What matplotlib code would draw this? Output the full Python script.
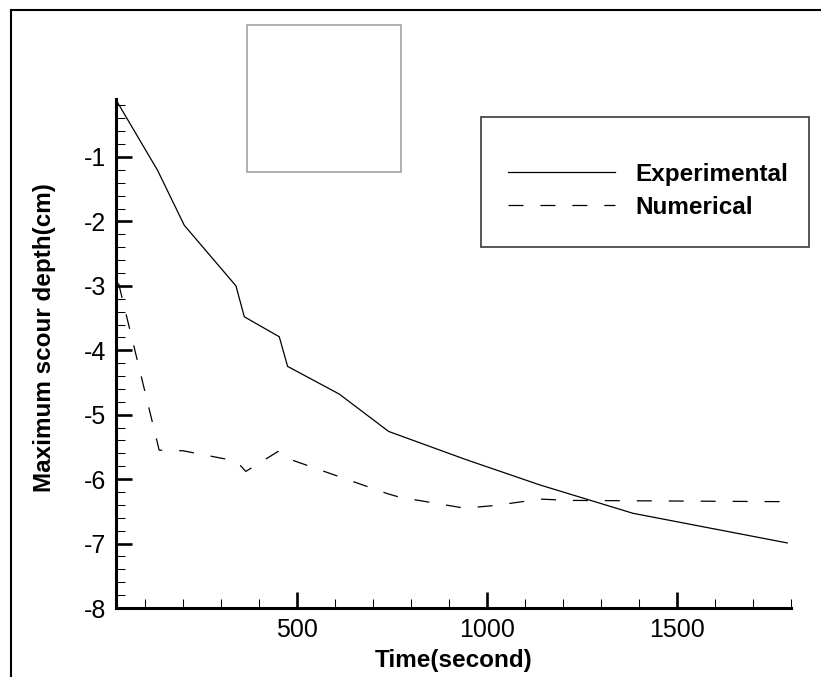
import matplotlib
matplotlib.use("Agg")
import matplotlib.pyplot as plt
from matplotlib.patches import Rectangle
from matplotlib.lines import Line2D
from matplotlib.ticker import MultipleLocator, FixedLocator

plt.rcParams['font.family'] = ['Liberation Sans', 'DejaVu Sans']
plt.rcParams['axes.unicode_minus'] = False
plt.rcParams['lines.scale_dashes'] = False

# ---- data ----
exp_time = [22, 133, 203, 339, 361, 453, 475, 611, 741, 946, 1139, 1384, 1790]
exp_depth = [-0.1, -1.21, -2.06, -3.00, -3.48, -3.79, -4.25, -4.68, -5.26, -5.70, -6.09, -6.53, -6.99]

num_time = [30, 137, 200, 340, 365, 450, 480, 740, 770, 890, 940, 1020, 1140, 1220, 1790]
num_depth = [-2.96, -5.55, -5.56, -5.72, -5.88, -5.57, -5.69, -6.23, -6.28, -6.40, -6.45, -6.41, -6.31, -6.33, -6.35]

series_labels = ["Experimental", "Numerical"]
x_ticks = [500, 1000, 1500]
y_ticks = [-8, -7, -6, -5, -4, -3, -2, -1]
x_label = "Time(second)"
y_label = "Maximum scour depth(cm)"

W, H = 821, 677
fig = plt.figure(figsize=(W / 100, H / 100), dpi=100)

def fx(px):
    return px / W

def fy(py):
    return 1 - py / H

ax_left, ax_right, ax_top, ax_bottom = 115.5, 791, 99, 608
ax = fig.add_axes([fx(ax_left), fy(ax_bottom), (ax_right - ax_left) / W, (ax_bottom - ax_top) / H])

dash = (10.8, 12.2)
ax.plot(exp_time, exp_depth, color='black', lw=0.9, solid_joinstyle='miter')
ax.plot(num_time, num_depth, color='black', lw=0.9, linestyle=(0, dash))

ax.set_xlim(22, 1800)
ax.set_ylim(-8, -0.1)

for s in ['top', 'right']:
    ax.spines[s].set_visible(False)
for s in ['left', 'bottom']:
    ax.spines[s].set_linewidth(2.2)

ax.xaxis.set_major_locator(FixedLocator(x_ticks))
ax.yaxis.set_major_locator(FixedLocator(y_ticks))
ax.xaxis.set_minor_locator(MultipleLocator(100))
ax.yaxis.set_minor_locator(MultipleLocator(0.2))
ax.set_xticklabels([str(t) for t in x_ticks])
ax.set_yticklabels([str(t) for t in y_ticks])

ax.tick_params(which='major', direction='in', length=11.5, width=1.9, labelsize=18, color='black')
ax.tick_params(which='minor', direction='in', length=6.5, width=0.75, color='black')
ax.tick_params(axis='x', which='major', pad=7)
ax.tick_params(axis='y', which='major', pad=7)
ax.tick_params(top=False, right=False, which='both')

ax.set_xlabel(x_label, fontsize=17.5, fontweight='bold', labelpad=5)
ax.set_ylabel(y_label, fontsize=17.5, fontweight='bold')
ax.yaxis.set_label_coords((56 - ax_left) / (ax_right - ax_left), (ax_bottom - 337.5) / (ax_bottom - ax_top))

# outer frame
fig.add_artist(Rectangle((fx(11), fy(700)), fx(840) - fx(11), fy(10) - fy(700),
                         transform=fig.transFigure, fill=False, edgecolor='black', lw=1.5))
# empty square box
fig.add_artist(Rectangle((fx(246.7), fy(172)), fx(400.7) - fx(246.7), fy(25) - fy(172),
                         transform=fig.transFigure, fill=False, edgecolor='#9a9a9a', lw=1.1))
# legend box
fig.add_artist(Rectangle((fx(481), fy(247)), fx(809) - fx(481), fy(117) - fy(247),
                         transform=fig.transFigure, fill=False, edgecolor='#3a3a3a', lw=1.2))
fig.add_artist(Line2D([fx(508), fx(615)], [fy(171.7), fy(171.7)], transform=fig.transFigure,
                      color='black', lw=0.9))
fig.add_artist(Line2D([fx(508), fx(615)], [fy(205), fy(205)], transform=fig.transFigure,
                      color='black', lw=0.9, linestyle=(0, dash)))
fig.text(fx(635), fy(181), series_labels[0], fontsize=17.5, fontweight='bold', va='baseline', ha='left')
fig.text(fx(635), fy(214.3), series_labels[1], fontsize=17.5, fontweight='bold', va='baseline', ha='left')

fig.savefig("out.png", dpi=100)
